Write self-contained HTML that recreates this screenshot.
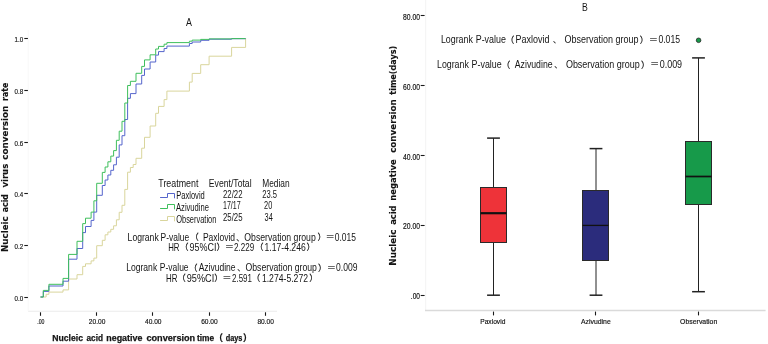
<!DOCTYPE html>
<html lang="en"><head><meta charset="utf-8"><title>Figure</title>
<style>html,body{margin:0;padding:0;background:#fff}svg{display:block}</style></head>
<body>
<svg width="768" height="344" viewBox="0 0 768 344">
<rect width="768" height="344" fill="#fff"/>
<line x1="28" y1="311.3" x2="277" y2="311.3" stroke="#ebebeb" stroke-width="1.1"/>
<line x1="28.2" y1="30" x2="28.2" y2="311.3" stroke="#f8f8f8" stroke-width="1"/>
<line x1="40.5" y1="312.3" x2="40.5" y2="315.8" stroke="#1a1a1a" stroke-width="1.1"/>
<text x="37.2" y="323.8" font-family="'Liberation Sans','Noto Sans CJK SC',sans-serif" font-size="7.9" font-weight="normal" fill="#141414" text-anchor="start" textLength="7.2" lengthAdjust="spacingAndGlyphs" stroke="#141414" stroke-width="0.18">.00</text>
<line x1="96.5" y1="312.3" x2="96.5" y2="315.8" stroke="#1a1a1a" stroke-width="1.1"/>
<text x="88.8" y="323.8" font-family="'Liberation Sans','Noto Sans CJK SC',sans-serif" font-size="7.9" font-weight="normal" fill="#141414" text-anchor="start" textLength="16.5" lengthAdjust="spacingAndGlyphs" stroke="#141414" stroke-width="0.18">20.00</text>
<line x1="152.5" y1="312.3" x2="152.5" y2="315.8" stroke="#1a1a1a" stroke-width="1.1"/>
<text x="145.0" y="323.8" font-family="'Liberation Sans','Noto Sans CJK SC',sans-serif" font-size="7.9" font-weight="normal" fill="#141414" text-anchor="start" textLength="16.5" lengthAdjust="spacingAndGlyphs" stroke="#141414" stroke-width="0.18">40.00</text>
<line x1="209.5" y1="312.3" x2="209.5" y2="315.8" stroke="#1a1a1a" stroke-width="1.1"/>
<text x="201.2" y="323.8" font-family="'Liberation Sans','Noto Sans CJK SC',sans-serif" font-size="7.9" font-weight="normal" fill="#141414" text-anchor="start" textLength="16.5" lengthAdjust="spacingAndGlyphs" stroke="#141414" stroke-width="0.18">60.00</text>
<line x1="265.5" y1="312.3" x2="265.5" y2="315.8" stroke="#1a1a1a" stroke-width="1.1"/>
<text x="257.4" y="323.8" font-family="'Liberation Sans','Noto Sans CJK SC',sans-serif" font-size="7.9" font-weight="normal" fill="#141414" text-anchor="start" textLength="16.5" lengthAdjust="spacingAndGlyphs" stroke="#141414" stroke-width="0.18">80.00</text>
<line x1="24.3" y1="297.5" x2="27.9" y2="297.5" stroke="#1a1a1a" stroke-width="1.1"/>
<text x="14.5" y="300.8" font-family="'Liberation Sans','Noto Sans CJK SC',sans-serif" font-size="8.1" font-weight="normal" fill="#141414" text-anchor="start" textLength="8.6" lengthAdjust="spacingAndGlyphs" stroke="#141414" stroke-width="0.18">0.0</text>
<line x1="24.3" y1="245.5" x2="27.9" y2="245.5" stroke="#1a1a1a" stroke-width="1.1"/>
<text x="14.5" y="248.8" font-family="'Liberation Sans','Noto Sans CJK SC',sans-serif" font-size="8.1" font-weight="normal" fill="#141414" text-anchor="start" textLength="8.6" lengthAdjust="spacingAndGlyphs" stroke="#141414" stroke-width="0.18">0.2</text>
<line x1="24.3" y1="193.5" x2="27.9" y2="193.5" stroke="#1a1a1a" stroke-width="1.1"/>
<text x="14.5" y="196.8" font-family="'Liberation Sans','Noto Sans CJK SC',sans-serif" font-size="8.1" font-weight="normal" fill="#141414" text-anchor="start" textLength="8.6" lengthAdjust="spacingAndGlyphs" stroke="#141414" stroke-width="0.18">0.4</text>
<line x1="24.3" y1="142.5" x2="27.9" y2="142.5" stroke="#1a1a1a" stroke-width="1.1"/>
<text x="14.5" y="145.8" font-family="'Liberation Sans','Noto Sans CJK SC',sans-serif" font-size="8.1" font-weight="normal" fill="#141414" text-anchor="start" textLength="8.6" lengthAdjust="spacingAndGlyphs" stroke="#141414" stroke-width="0.18">0.6</text>
<line x1="24.3" y1="90.5" x2="27.9" y2="90.5" stroke="#1a1a1a" stroke-width="1.1"/>
<text x="14.5" y="93.8" font-family="'Liberation Sans','Noto Sans CJK SC',sans-serif" font-size="8.1" font-weight="normal" fill="#141414" text-anchor="start" textLength="8.6" lengthAdjust="spacingAndGlyphs" stroke="#141414" stroke-width="0.18">0.8</text>
<line x1="24.3" y1="38.5" x2="27.9" y2="38.5" stroke="#1a1a1a" stroke-width="1.1"/>
<text x="14.5" y="41.8" font-family="'Liberation Sans','Noto Sans CJK SC',sans-serif" font-size="8.1" font-weight="normal" fill="#141414" text-anchor="start" textLength="8.6" lengthAdjust="spacingAndGlyphs" stroke="#141414" stroke-width="0.18">1.0</text>
<g fill="none" stroke-width="1" stroke-linejoin="miter">
<path d="M40.5 297.0 H46.1 V294.3 H48.9 V292.1 H63.0 V289.9 H68.6 V279.0 H77.0 V274.7 H82.7 V266.4 H85.5 V263.8 H91.1 V260.9 H93.9 V258.1 H96.7 V245.7 H102.3 V240.3 H105.1 V234.8 H107.9 V232.0 H110.8 V229.3 H113.6 V225.8 H116.4 V219.8 H119.2 V212.3 H122.0 V205.3 H124.8 V189.4 H127.6 V172.2 H130.4 V167.5 H133.2 V164.5 H136.0 V158.3 H141.7 V148.2 H144.5 V137.3 H150.1 V126.0 H155.7 V113.3 H158.5 V106.4 H164.1 V99.6 H166.9 V91.1 H189.4 V82.1 H192.2 V73.4 H200.7 V64.7 H209.1 V56.2 H231.6 V47.4 H245.6 V38.5 H245.6" stroke="#d9d59c"/>
<path d="M40.5 297.0 H43.3 V291.4 H48.9 V286.0 H63.0 V281.2 H68.6 V259.2 H77.0 V248.5 H82.7 V232.6 H85.5 V226.5 H91.1 V220.4 H93.9 V212.1 H96.7 V195.3 H102.3 V185.5 H105.1 V180.0 H107.9 V175.0 H110.8 V170.3 H113.6 V164.8 H116.4 V157.2 H119.2 V144.9 H122.0 V135.7 H124.8 V119.5 H127.6 V98.3 H130.4 V93.6 H136.0 V84.0 H141.7 V75.4 H144.5 V69.0 H150.1 V62.0 H155.7 V55.1 H158.5 V51.6 H164.1 V48.5 H166.9 V46.1 H189.4 V43.5 H192.2 V42.0 H200.7 V40.3 H209.1 V39.2 H231.6 V38.7 H245.6 V38.5 H245.6" stroke="#5565cc"/>
<path d="M40.5 297.0 H43.3 V290.4 H48.9 V284.3 H63.0 V278.4 H68.6 V254.4 H77.0 V241.3 H82.7 V223.6 H85.5 V218.2 H91.1 V212.1 H93.9 V200.8 H96.7 V183.3 H102.3 V172.4 H105.1 V167.0 H107.9 V161.8 H110.8 V156.1 H113.6 V150.6 H116.4 V140.3 H119.2 V131.2 H122.0 V121.3 H124.8 V103.0 H127.6 V85.5 H130.4 V81.3 H136.0 V73.3 H141.7 V66.4 H144.5 V59.9 H150.1 V54.8 H155.7 V49.0 H158.5 V46.4 H164.1 V44.2 H166.9 V42.6 H189.4 V41.2 H192.2 V40.1 H200.7 V39.4 H209.1 V38.9 H231.6 V38.6 H245.6" stroke="#3fbf5c"/>
</g>
<text x="186.1" y="25.9" font-family="'Liberation Sans','Noto Sans CJK SC',sans-serif" font-size="10.2" font-weight="normal" fill="#141414" text-anchor="start" textLength="5.9" lengthAdjust="spacingAndGlyphs">A</text>
<g transform="translate(7.9 252) rotate(-90)">
<text x="0.0" y="0.0" font-family="'DejaVu Sans','Liberation Sans',sans-serif" font-size="9.0" font-weight="bold" fill="#141414" text-anchor="start" textLength="35.7" lengthAdjust="spacingAndGlyphs" stroke="#141414" stroke-width="0.12">Nucleic</text>
<text x="39.7" y="0.0" font-family="'DejaVu Sans','Liberation Sans',sans-serif" font-size="9.0" font-weight="bold" fill="#141414" text-anchor="start" textLength="18.3" lengthAdjust="spacingAndGlyphs" stroke="#141414" stroke-width="0.12">acid</text>
<text x="64.5" y="0.0" font-family="'DejaVu Sans','Liberation Sans',sans-serif" font-size="9.0" font-weight="bold" fill="#141414" text-anchor="start" textLength="23.7" lengthAdjust="spacingAndGlyphs" stroke="#141414" stroke-width="0.12">virus</text>
<text x="92.3" y="0.0" font-family="'DejaVu Sans','Liberation Sans',sans-serif" font-size="9.0" font-weight="bold" fill="#141414" text-anchor="start" textLength="54.0" lengthAdjust="spacingAndGlyphs" stroke="#141414" stroke-width="0.12">conversion</text>
<text x="151.0" y="0.0" font-family="'DejaVu Sans','Liberation Sans',sans-serif" font-size="9.0" font-weight="bold" fill="#141414" text-anchor="start" textLength="18.5" lengthAdjust="spacingAndGlyphs" stroke="#141414" stroke-width="0.12">rate</text>
</g>
<text x="52.2" y="340.8" font-family="'Liberation Sans','Noto Sans CJK SC',sans-serif" font-size="9.4" font-weight="bold" fill="#141414" text-anchor="start" textLength="30.8" lengthAdjust="spacingAndGlyphs" stroke="#141414" stroke-width="0.25">Nucleic</text>
<text x="86.5" y="340.8" font-family="'Liberation Sans','Noto Sans CJK SC',sans-serif" font-size="9.4" font-weight="bold" fill="#141414" text-anchor="start" textLength="16.5" lengthAdjust="spacingAndGlyphs" stroke="#141414" stroke-width="0.25">acid</text>
<text x="106.3" y="340.8" font-family="'Liberation Sans','Noto Sans CJK SC',sans-serif" font-size="9.4" font-weight="bold" fill="#141414" text-anchor="start" textLength="36.1" lengthAdjust="spacingAndGlyphs" stroke="#141414" stroke-width="0.25">negative</text>
<text x="146.4" y="340.8" font-family="'Liberation Sans','Noto Sans CJK SC',sans-serif" font-size="9.4" font-weight="bold" fill="#141414" text-anchor="start" textLength="48.8" lengthAdjust="spacingAndGlyphs" stroke="#141414" stroke-width="0.25">conversion</text>
<text x="197.0" y="340.8" font-family="'Liberation Sans','Noto Sans CJK SC',sans-serif" font-size="9.4" font-weight="bold" fill="#141414" text-anchor="start" textLength="17.2" lengthAdjust="spacingAndGlyphs" stroke="#141414" stroke-width="0.25">time</text>
<text x="225.7" y="340.8" font-family="'Liberation Sans','Noto Sans CJK SC',sans-serif" font-size="9.4" font-weight="bold" fill="#141414" text-anchor="start" textLength="16.7" lengthAdjust="spacingAndGlyphs" stroke="#141414" stroke-width="0.25">days</text>
<text x="214.0" y="340.6" font-family="'Liberation Sans','Noto Sans CJK SC',sans-serif" font-size="9.0" font-weight="bold" fill="#141414" text-anchor="start" stroke="#141414" stroke-width="0.25">（</text>
<text x="243.0" y="340.6" font-family="'Liberation Sans','Noto Sans CJK SC',sans-serif" font-size="9.0" font-weight="bold" fill="#141414" text-anchor="start" stroke="#141414" stroke-width="0.25">）</text>
<text x="158.3" y="186.9" font-family="'Liberation Sans','Noto Sans CJK SC',sans-serif" font-size="10.2" font-weight="normal" fill="#141414" text-anchor="start" textLength="40.1" lengthAdjust="spacingAndGlyphs">Treatment</text>
<text x="208.8" y="186.9" font-family="'Liberation Sans','Noto Sans CJK SC',sans-serif" font-size="10.2" font-weight="normal" fill="#141414" text-anchor="start" textLength="42.8" lengthAdjust="spacingAndGlyphs">Event/Total</text>
<text x="262.2" y="186.9" font-family="'Liberation Sans','Noto Sans CJK SC',sans-serif" font-size="10.2" font-weight="normal" fill="#141414" text-anchor="start" textLength="27.4" lengthAdjust="spacingAndGlyphs">Median</text>
<text x="176.2" y="199.2" font-family="'Liberation Sans','Noto Sans CJK SC',sans-serif" font-size="10.2" font-weight="normal" fill="#141414" text-anchor="start" textLength="28.6" lengthAdjust="spacingAndGlyphs">Paxlovid</text>
<text x="176.0" y="211.0" font-family="'Liberation Sans','Noto Sans CJK SC',sans-serif" font-size="10.2" font-weight="normal" fill="#141414" text-anchor="start" textLength="33.0" lengthAdjust="spacingAndGlyphs">Azivudine</text>
<text x="176.2" y="222.5" font-family="'Liberation Sans','Noto Sans CJK SC',sans-serif" font-size="10.2" font-weight="normal" fill="#141414" text-anchor="start" textLength="40.2" lengthAdjust="spacingAndGlyphs">Observation</text>
<text x="223.0" y="197.7" font-family="'Liberation Sans','Noto Sans CJK SC',sans-serif" font-size="10.2" font-weight="normal" fill="#141414" text-anchor="start" textLength="19.5" lengthAdjust="spacingAndGlyphs">22/22</text>
<text x="223.0" y="208.8" font-family="'Liberation Sans','Noto Sans CJK SC',sans-serif" font-size="10.2" font-weight="normal" fill="#141414" text-anchor="start" textLength="17.7" lengthAdjust="spacingAndGlyphs">17/17</text>
<text x="223.0" y="220.5" font-family="'Liberation Sans','Noto Sans CJK SC',sans-serif" font-size="10.2" font-weight="normal" fill="#141414" text-anchor="start" textLength="19.5" lengthAdjust="spacingAndGlyphs">25/25</text>
<text x="262.2" y="197.7" font-family="'Liberation Sans','Noto Sans CJK SC',sans-serif" font-size="10.2" font-weight="normal" fill="#141414" text-anchor="start" textLength="14.8" lengthAdjust="spacingAndGlyphs">23.5</text>
<text x="264.1" y="208.8" font-family="'Liberation Sans','Noto Sans CJK SC',sans-serif" font-size="10.2" font-weight="normal" fill="#141414" text-anchor="start" textLength="8.2" lengthAdjust="spacingAndGlyphs">20</text>
<text x="264.6" y="220.5" font-family="'Liberation Sans','Noto Sans CJK SC',sans-serif" font-size="10.2" font-weight="normal" fill="#141414" text-anchor="start" textLength="8.2" lengthAdjust="spacingAndGlyphs">34</text>
<path d="M160.1 197.5 H167.5 V193.5 H174.5 V198.3" fill="none" stroke="#5565cc" stroke-width="1"/>
<path d="M160.1 208.5 H167.5 V204.5 H174.5 V209.3" fill="none" stroke="#3fbf5c" stroke-width="1"/>
<path d="M160.1 220.5 H167.5 V216.5 H174.5 V221.3" fill="none" stroke="#d9d59c" stroke-width="1"/>
<text x="127.6" y="240.6" font-family="'Liberation Sans','Noto Sans CJK SC',sans-serif" font-size="10.2" font-weight="normal" fill="#141414" text-anchor="start" textLength="31.1" lengthAdjust="spacingAndGlyphs">Logrank</text>
<text x="160.6" y="240.6" font-family="'Liberation Sans','Noto Sans CJK SC',sans-serif" font-size="10.2" font-weight="normal" fill="#141414" text-anchor="start" textLength="28.6" lengthAdjust="spacingAndGlyphs">P-value</text>
<text x="190.0" y="240.3" font-family="'Liberation Sans','Noto Sans CJK SC',sans-serif" font-size="8.8" font-weight="normal" fill="#141414" text-anchor="start" stroke="#141414" stroke-width="0.18">（</text>
<text x="202.9" y="240.6" font-family="'Liberation Sans','Noto Sans CJK SC',sans-serif" font-size="10.2" font-weight="normal" fill="#141414" text-anchor="start" textLength="32.2" lengthAdjust="spacingAndGlyphs">Paxlovid</text>
<text x="236.0" y="240.6" font-family="'Liberation Sans','Noto Sans CJK SC',sans-serif" font-size="9.0" font-weight="normal" fill="#141414" text-anchor="start">、</text>
<text x="244.3" y="240.6" font-family="'Liberation Sans','Noto Sans CJK SC',sans-serif" font-size="10.2" font-weight="normal" fill="#141414" text-anchor="start" textLength="71.5" lengthAdjust="spacingAndGlyphs">Observation group</text>
<text x="317.4" y="240.3" font-family="'Liberation Sans','Noto Sans CJK SC',sans-serif" font-size="8.8" font-weight="normal" fill="#141414" text-anchor="start" stroke="#141414" stroke-width="0.18">）</text>
<text x="325.7" y="240.1" font-family="'Liberation Sans','Noto Sans CJK SC',sans-serif" font-size="8.8" font-weight="normal" fill="#141414" text-anchor="start" stroke="#141414" stroke-width="0.18">＝</text>
<text x="334.7" y="240.6" font-family="'Liberation Sans','Noto Sans CJK SC',sans-serif" font-size="10.2" font-weight="normal" fill="#141414" text-anchor="start" textLength="21.2" lengthAdjust="spacingAndGlyphs">0.015</text>
<text x="168.2" y="250.5" font-family="'Liberation Sans','Noto Sans CJK SC',sans-serif" font-size="10.2" font-weight="normal" fill="#141414" text-anchor="start" textLength="11.3" lengthAdjust="spacingAndGlyphs">HR</text>
<text x="179.7" y="250.2" font-family="'Liberation Sans','Noto Sans CJK SC',sans-serif" font-size="8.8" font-weight="normal" fill="#141414" text-anchor="start" stroke="#141414" stroke-width="0.18">（</text>
<text x="189.6" y="250.5" font-family="'Liberation Sans','Noto Sans CJK SC',sans-serif" font-size="10.2" font-weight="normal" fill="#141414" text-anchor="start" textLength="26.9" lengthAdjust="spacingAndGlyphs">95%CI</text>
<text x="216.5" y="250.2" font-family="'Liberation Sans','Noto Sans CJK SC',sans-serif" font-size="8.8" font-weight="normal" fill="#141414" text-anchor="start" stroke="#141414" stroke-width="0.18">）</text>
<text x="224.9" y="250.0" font-family="'Liberation Sans','Noto Sans CJK SC',sans-serif" font-size="8.8" font-weight="normal" fill="#141414" text-anchor="start" stroke="#141414" stroke-width="0.18">＝</text>
<text x="234.0" y="250.5" font-family="'Liberation Sans','Noto Sans CJK SC',sans-serif" font-size="10.2" font-weight="normal" fill="#141414" text-anchor="start" textLength="20.1" lengthAdjust="spacingAndGlyphs">2.229</text>
<text x="254.8" y="250.2" font-family="'Liberation Sans','Noto Sans CJK SC',sans-serif" font-size="8.8" font-weight="normal" fill="#141414" text-anchor="start" stroke="#141414" stroke-width="0.18">（</text>
<text x="264.6" y="250.5" font-family="'Liberation Sans','Noto Sans CJK SC',sans-serif" font-size="10.2" font-weight="normal" fill="#141414" text-anchor="start" textLength="41.1" lengthAdjust="spacingAndGlyphs">1.17-4.246</text>
<text x="306.6" y="250.2" font-family="'Liberation Sans','Noto Sans CJK SC',sans-serif" font-size="8.8" font-weight="normal" fill="#141414" text-anchor="start" stroke="#141414" stroke-width="0.18">）</text>
<text x="126.2" y="271.3" font-family="'Liberation Sans','Noto Sans CJK SC',sans-serif" font-size="10.2" font-weight="normal" fill="#141414" text-anchor="start" textLength="31.0" lengthAdjust="spacingAndGlyphs">Logrank</text>
<text x="159.8" y="271.3" font-family="'Liberation Sans','Noto Sans CJK SC',sans-serif" font-size="10.2" font-weight="normal" fill="#141414" text-anchor="start" textLength="28.8" lengthAdjust="spacingAndGlyphs">P-value</text>
<text x="188.8" y="271.0" font-family="'Liberation Sans','Noto Sans CJK SC',sans-serif" font-size="8.8" font-weight="normal" fill="#141414" text-anchor="start" stroke="#141414" stroke-width="0.18">（</text>
<text x="198.7" y="271.3" font-family="'Liberation Sans','Noto Sans CJK SC',sans-serif" font-size="10.2" font-weight="normal" fill="#141414" text-anchor="start" textLength="36.9" lengthAdjust="spacingAndGlyphs">Azivudine</text>
<text x="236.9" y="271.3" font-family="'Liberation Sans','Noto Sans CJK SC',sans-serif" font-size="9.0" font-weight="normal" fill="#141414" text-anchor="start">、</text>
<text x="245.5" y="271.3" font-family="'Liberation Sans','Noto Sans CJK SC',sans-serif" font-size="10.2" font-weight="normal" fill="#141414" text-anchor="start" textLength="71.4" lengthAdjust="spacingAndGlyphs">Observation group</text>
<text x="318.1" y="271.0" font-family="'Liberation Sans','Noto Sans CJK SC',sans-serif" font-size="8.8" font-weight="normal" fill="#141414" text-anchor="start" stroke="#141414" stroke-width="0.18">）</text>
<text x="326.9" y="270.8" font-family="'Liberation Sans','Noto Sans CJK SC',sans-serif" font-size="8.8" font-weight="normal" fill="#141414" text-anchor="start" stroke="#141414" stroke-width="0.18">＝</text>
<text x="336.0" y="271.3" font-family="'Liberation Sans','Noto Sans CJK SC',sans-serif" font-size="10.2" font-weight="normal" fill="#141414" text-anchor="start" textLength="21.4" lengthAdjust="spacingAndGlyphs">0.009</text>
<text x="166.0" y="281.6" font-family="'Liberation Sans','Noto Sans CJK SC',sans-serif" font-size="10.2" font-weight="normal" fill="#141414" text-anchor="start" textLength="11.4" lengthAdjust="spacingAndGlyphs">HR</text>
<text x="177.1" y="281.3" font-family="'Liberation Sans','Noto Sans CJK SC',sans-serif" font-size="8.8" font-weight="normal" fill="#141414" text-anchor="start" stroke="#141414" stroke-width="0.18">（</text>
<text x="186.8" y="281.6" font-family="'Liberation Sans','Noto Sans CJK SC',sans-serif" font-size="10.2" font-weight="normal" fill="#141414" text-anchor="start" textLength="27.4" lengthAdjust="spacingAndGlyphs">95%CI</text>
<text x="214.2" y="281.3" font-family="'Liberation Sans','Noto Sans CJK SC',sans-serif" font-size="8.8" font-weight="normal" fill="#141414" text-anchor="start" stroke="#141414" stroke-width="0.18">）</text>
<text x="222.4" y="281.1" font-family="'Liberation Sans','Noto Sans CJK SC',sans-serif" font-size="8.8" font-weight="normal" fill="#141414" text-anchor="start" stroke="#141414" stroke-width="0.18">＝</text>
<text x="232.0" y="281.6" font-family="'Liberation Sans','Noto Sans CJK SC',sans-serif" font-size="10.2" font-weight="normal" fill="#141414" text-anchor="start" textLength="19.9" lengthAdjust="spacingAndGlyphs">2.591</text>
<text x="251.6" y="281.3" font-family="'Liberation Sans','Noto Sans CJK SC',sans-serif" font-size="8.8" font-weight="normal" fill="#141414" text-anchor="start" stroke="#141414" stroke-width="0.18">（</text>
<text x="261.9" y="281.6" font-family="'Liberation Sans','Noto Sans CJK SC',sans-serif" font-size="10.2" font-weight="normal" fill="#141414" text-anchor="start" textLength="46.1" lengthAdjust="spacingAndGlyphs">1.274-5.272</text>
<text x="309.2" y="281.3" font-family="'Liberation Sans','Noto Sans CJK SC',sans-serif" font-size="8.8" font-weight="normal" fill="#141414" text-anchor="start" stroke="#141414" stroke-width="0.18">）</text>
<line x1="425.6" y1="0" x2="425.6" y2="311" stroke="#f5f5f5" stroke-width="1.2"/>
<line x1="425" y1="310.6" x2="765.6" y2="310.6" stroke="#dadada" stroke-width="1.5"/>
<line x1="420.7" y1="295.5" x2="424.6" y2="295.5" stroke="#1a1a1a" stroke-width="1.1"/>
<text x="410.8" y="299.1" font-family="'Liberation Sans','Noto Sans CJK SC',sans-serif" font-size="8.2" font-weight="normal" fill="#141414" text-anchor="start" textLength="9.2" lengthAdjust="spacingAndGlyphs" stroke="#141414" stroke-width="0.18">.00</text>
<line x1="420.7" y1="225.5" x2="424.6" y2="225.5" stroke="#1a1a1a" stroke-width="1.1"/>
<text x="403.0" y="229.3" font-family="'Liberation Sans','Noto Sans CJK SC',sans-serif" font-size="8.2" font-weight="normal" fill="#141414" text-anchor="start" textLength="17.0" lengthAdjust="spacingAndGlyphs" stroke="#141414" stroke-width="0.18">20.00</text>
<line x1="420.7" y1="155.5" x2="424.6" y2="155.5" stroke="#1a1a1a" stroke-width="1.1"/>
<text x="403.0" y="159.5" font-family="'Liberation Sans','Noto Sans CJK SC',sans-serif" font-size="8.2" font-weight="normal" fill="#141414" text-anchor="start" textLength="17.0" lengthAdjust="spacingAndGlyphs" stroke="#141414" stroke-width="0.18">40.00</text>
<line x1="420.7" y1="85.5" x2="424.6" y2="85.5" stroke="#1a1a1a" stroke-width="1.1"/>
<text x="403.0" y="89.7" font-family="'Liberation Sans','Noto Sans CJK SC',sans-serif" font-size="8.2" font-weight="normal" fill="#141414" text-anchor="start" textLength="17.0" lengthAdjust="spacingAndGlyphs" stroke="#141414" stroke-width="0.18">60.00</text>
<line x1="420.7" y1="15.5" x2="424.6" y2="15.5" stroke="#1a1a1a" stroke-width="1.1"/>
<text x="403.0" y="19.9" font-family="'Liberation Sans','Noto Sans CJK SC',sans-serif" font-size="8.2" font-weight="normal" fill="#141414" text-anchor="start" textLength="17.0" lengthAdjust="spacingAndGlyphs" stroke="#141414" stroke-width="0.18">80.00</text>
<text x="581.9" y="10.5" font-family="'Liberation Sans','Noto Sans CJK SC',sans-serif" font-size="10.2" font-weight="normal" fill="#141414" text-anchor="start" textLength="5.8" lengthAdjust="spacingAndGlyphs">B</text>
<g transform="translate(396.0 265.7) rotate(-90)">
<text x="0.0" y="0.0" font-family="'DejaVu Sans','Liberation Sans',sans-serif" font-size="9.0" font-weight="bold" fill="#141414" text-anchor="start" textLength="36.1" lengthAdjust="spacingAndGlyphs" stroke="#141414" stroke-width="0.12">Nucleic</text>
<text x="40.9" y="0.0" font-family="'DejaVu Sans','Liberation Sans',sans-serif" font-size="9.0" font-weight="bold" fill="#141414" text-anchor="start" textLength="19.2" lengthAdjust="spacingAndGlyphs" stroke="#141414" stroke-width="0.12">acid</text>
<text x="64.9" y="0.0" font-family="'DejaVu Sans','Liberation Sans',sans-serif" font-size="9.0" font-weight="bold" fill="#141414" text-anchor="start" textLength="41.6" lengthAdjust="spacingAndGlyphs" stroke="#141414" stroke-width="0.12">negative</text>
<text x="112.9" y="0.0" font-family="'DejaVu Sans','Liberation Sans',sans-serif" font-size="9.0" font-weight="bold" fill="#141414" text-anchor="start" textLength="53.6" lengthAdjust="spacingAndGlyphs" stroke="#141414" stroke-width="0.12">conversion</text>
<text x="171.0" y="0.0" font-family="'DejaVu Sans','Liberation Sans',sans-serif" font-size="9.0" font-weight="bold" fill="#141414" text-anchor="start" textLength="48.9" lengthAdjust="spacingAndGlyphs" stroke="#141414" stroke-width="0.12">time(days)</text>
</g>
<g stroke="#222" stroke-width="1">
<line x1="493.5" y1="138.1" x2="493.5" y2="187.5"/>
<line x1="493.5" y1="242.5" x2="493.5" y2="295.2"/>
<line x1="487.1" y1="138.1" x2="499.9" y2="138.1" stroke-width="1.5"/>
<line x1="487.1" y1="295.2" x2="499.9" y2="295.2" stroke-width="1.5"/>
<rect x="480.5" y="187.5" width="26.0" height="55.0" fill="#ee3339" stroke="#2a2a2a" stroke-width="1"/>
<line x1="480.5" y1="213.2" x2="506.5" y2="213.2" stroke="#111" stroke-width="2.2"/>
</g>
<g stroke="#222" stroke-width="1">
<line x1="596.0" y1="148.6" x2="596.0" y2="190.5"/>
<line x1="596.0" y1="260.5" x2="596.0" y2="295.2"/>
<line x1="589.6" y1="148.6" x2="602.4" y2="148.6" stroke-width="1.5"/>
<line x1="589.6" y1="295.2" x2="602.4" y2="295.2" stroke-width="1.5"/>
<rect x="582.5" y="190.5" width="26.0" height="70.0" fill="#2b2c7c" stroke="#2a2a2a" stroke-width="1"/>
<line x1="582.5" y1="225.4" x2="608.5" y2="225.4" stroke="#111" stroke-width="1.3"/>
</g>
<g stroke="#222" stroke-width="1">
<line x1="698.5" y1="57.9" x2="698.5" y2="141.5"/>
<line x1="698.5" y1="204.5" x2="698.5" y2="291.7"/>
<line x1="692.1" y1="57.9" x2="704.9" y2="57.9" stroke-width="1.5"/>
<line x1="692.1" y1="291.7" x2="704.9" y2="291.7" stroke-width="1.5"/>
<rect x="685.5" y="141.5" width="26.0" height="63.0" fill="#179a4a" stroke="#2a2a2a" stroke-width="1"/>
<line x1="685.5" y1="176.5" x2="711.5" y2="176.5" stroke="#111" stroke-width="1.7"/>
</g>
<circle cx="698.6" cy="40.3" r="2.3" fill="#179a4a" stroke="#2a2a2a" stroke-width="0.8"/>
<line x1="493.5" y1="311.6" x2="493.5" y2="315.4" stroke="#1a1a1a" stroke-width="1.1"/>
<text x="480.2" y="323.7" font-family="'Liberation Sans','Noto Sans CJK SC',sans-serif" font-size="7.7" font-weight="normal" fill="#141414" text-anchor="start" textLength="25.2" lengthAdjust="spacingAndGlyphs" stroke="#141414" stroke-width="0.18">Paxlovid</text>
<line x1="595.5" y1="311.6" x2="595.5" y2="315.4" stroke="#1a1a1a" stroke-width="1.1"/>
<text x="581.0" y="323.7" font-family="'Liberation Sans','Noto Sans CJK SC',sans-serif" font-size="7.7" font-weight="normal" fill="#141414" text-anchor="start" textLength="29.7" lengthAdjust="spacingAndGlyphs" stroke="#141414" stroke-width="0.18">Azivudine</text>
<line x1="698.5" y1="311.6" x2="698.5" y2="315.4" stroke="#1a1a1a" stroke-width="1.1"/>
<text x="680.1" y="323.7" font-family="'Liberation Sans','Noto Sans CJK SC',sans-serif" font-size="7.7" font-weight="normal" fill="#141414" text-anchor="start" textLength="37.2" lengthAdjust="spacingAndGlyphs" stroke="#141414" stroke-width="0.18">Observation</text>
<text x="440.9" y="43.0" font-family="'Liberation Sans','Noto Sans CJK SC',sans-serif" font-size="10.2" font-weight="normal" fill="#141414" text-anchor="start" textLength="32.0" lengthAdjust="spacingAndGlyphs">Logrank</text>
<text x="475.7" y="43.0" font-family="'Liberation Sans','Noto Sans CJK SC',sans-serif" font-size="10.2" font-weight="normal" fill="#141414" text-anchor="start" textLength="30.2" lengthAdjust="spacingAndGlyphs">P-value</text>
<text x="505.4" y="42.7" font-family="'Liberation Sans','Noto Sans CJK SC',sans-serif" font-size="8.8" font-weight="normal" fill="#141414" text-anchor="start" stroke="#141414" stroke-width="0.18">（</text>
<text x="515.5" y="43.0" font-family="'Liberation Sans','Noto Sans CJK SC',sans-serif" font-size="10.2" font-weight="normal" fill="#141414" text-anchor="start" textLength="33.9" lengthAdjust="spacingAndGlyphs">Paxlovid</text>
<text x="552.7" y="43.0" font-family="'Liberation Sans','Noto Sans CJK SC',sans-serif" font-size="9.0" font-weight="normal" fill="#141414" text-anchor="start">、</text>
<text x="564.6" y="43.0" font-family="'Liberation Sans','Noto Sans CJK SC',sans-serif" font-size="10.2" font-weight="normal" fill="#141414" text-anchor="start" textLength="74.0" lengthAdjust="spacingAndGlyphs">Observation group</text>
<text x="639.8" y="42.7" font-family="'Liberation Sans','Noto Sans CJK SC',sans-serif" font-size="8.8" font-weight="normal" fill="#141414" text-anchor="start" stroke="#141414" stroke-width="0.18">）</text>
<text x="649.1" y="42.5" font-family="'Liberation Sans','Noto Sans CJK SC',sans-serif" font-size="8.8" font-weight="normal" fill="#141414" text-anchor="start" stroke="#141414" stroke-width="0.18">＝</text>
<text x="658.4" y="43.0" font-family="'Liberation Sans','Noto Sans CJK SC',sans-serif" font-size="10.2" font-weight="normal" fill="#141414" text-anchor="start" textLength="21.7" lengthAdjust="spacingAndGlyphs">0.015</text>
<text x="437.0" y="67.8" font-family="'Liberation Sans','Noto Sans CJK SC',sans-serif" font-size="10.2" font-weight="normal" fill="#141414" text-anchor="start" textLength="31.8" lengthAdjust="spacingAndGlyphs">Logrank</text>
<text x="471.6" y="67.8" font-family="'Liberation Sans','Noto Sans CJK SC',sans-serif" font-size="10.2" font-weight="normal" fill="#141414" text-anchor="start" textLength="30.1" lengthAdjust="spacingAndGlyphs">P-value</text>
<text x="501.6" y="67.5" font-family="'Liberation Sans','Noto Sans CJK SC',sans-serif" font-size="8.8" font-weight="normal" fill="#141414" text-anchor="start" stroke="#141414" stroke-width="0.18">（</text>
<text x="514.8" y="67.8" font-family="'Liberation Sans','Noto Sans CJK SC',sans-serif" font-size="10.2" font-weight="normal" fill="#141414" text-anchor="start" textLength="37.8" lengthAdjust="spacingAndGlyphs">Azivudine</text>
<text x="554.0" y="67.8" font-family="'Liberation Sans','Noto Sans CJK SC',sans-serif" font-size="9.0" font-weight="normal" fill="#141414" text-anchor="start">、</text>
<text x="565.9" y="67.8" font-family="'Liberation Sans','Noto Sans CJK SC',sans-serif" font-size="10.2" font-weight="normal" fill="#141414" text-anchor="start" textLength="73.9" lengthAdjust="spacingAndGlyphs">Observation group</text>
<text x="641.1" y="67.5" font-family="'Liberation Sans','Noto Sans CJK SC',sans-serif" font-size="8.8" font-weight="normal" fill="#141414" text-anchor="start" stroke="#141414" stroke-width="0.18">）</text>
<text x="650.3" y="67.3" font-family="'Liberation Sans','Noto Sans CJK SC',sans-serif" font-size="8.8" font-weight="normal" fill="#141414" text-anchor="start" stroke="#141414" stroke-width="0.18">＝</text>
<text x="659.7" y="67.8" font-family="'Liberation Sans','Noto Sans CJK SC',sans-serif" font-size="10.2" font-weight="normal" fill="#141414" text-anchor="start" textLength="22.4" lengthAdjust="spacingAndGlyphs">0.009</text>
</svg>
</body></html>
